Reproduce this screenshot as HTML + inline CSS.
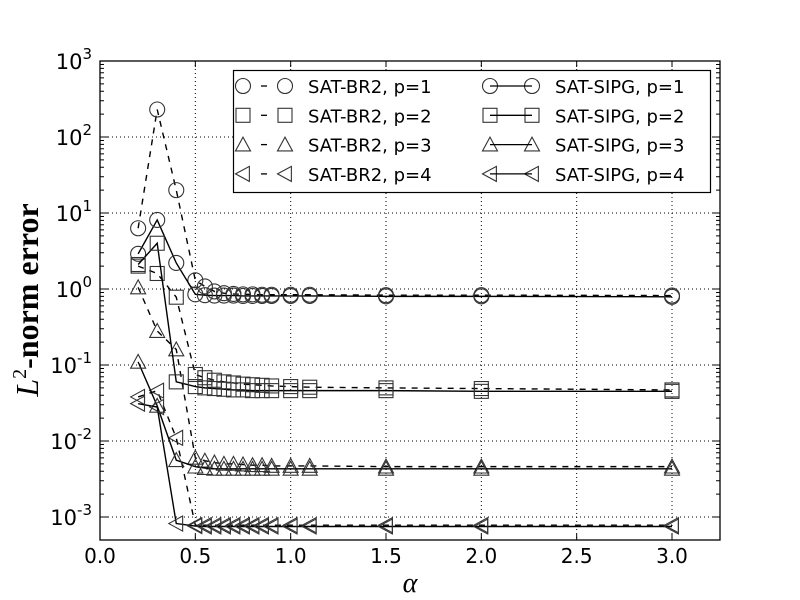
<!DOCTYPE html>
<html><head><meta charset="utf-8"><style>
body{margin:0;background:#fff}
svg{display:block}
text{font-family:"DejaVu Sans","Liberation Sans",sans-serif}
</style></head><body>
<svg id="chart" width="800" height="600" xmlns="http://www.w3.org/2000/svg">
<rect width="800" height="600" fill="#fff"/>
<g id="grid"></g>
<g id="series"></g>
<rect x="100" y="61" width="620" height="479" fill="none" stroke="#000" stroke-width="1.3"/>
<g id="ticks"></g>
<text x="410" y="592" text-anchor="middle" style="font-family:'Liberation Serif',serif;font-style:italic;font-size:28px">α</text>
<text transform="translate(38,300) rotate(-90)" text-anchor="middle" style="font-family:'Liberation Serif',serif;font-weight:bold;font-size:32px"><tspan font-style="italic" font-weight="normal">L</tspan><tspan dy="-12" font-size="20" font-weight="normal">2</tspan><tspan dy="12">-norm error</tspan></text>
<g id="legend">
<rect x="233.5" y="70.5" width="477" height="122" fill="#fff" stroke="#000" stroke-width="1.2"/>
</g>
</svg>
<script>
const xs = [0.2,0.3,0.4,0.5,0.55,0.6,0.65,0.7,0.75,0.8,0.85,0.9,1.0,1.1,1.5,2.0,3.0];
const br2p1 = [6.3,230,20,1.3,1.08,0.93,0.88,0.86,0.85,0.85,0.84,0.84,0.84,0.84,0.83,0.83,0.82];
const sipgp1 = [2.9,8.1,2.2,0.85,0.83,0.82,0.82,0.82,0.81,0.81,0.81,0.81,0.81,0.81,0.80,0.80,0.79];
const br2p2 = [2.0,1.6,0.78,0.075,0.068,0.063,0.06,0.058,0.056,0.055,0.054,0.053,0.052,0.051,0.05,0.049,0.047];
const sipgp2 = [2.1,4.0,0.06,0.052,0.05,0.049,0.048,0.047,0.047,0.046,0.046,0.046,0.046,0.046,0.046,0.045,0.045];
const br2p3 = [1.05,0.28,0.16,0.006,0.0055,0.0052,0.005,0.005,0.0049,0.0048,0.0048,0.0047,0.0047,0.0047,0.0046,0.0046,0.0046];
const sipgp3 = [0.11,0.029,0.0056,0.0046,0.0044,0.0043,0.0043,0.0043,0.0043,0.0043,0.0043,0.0043,0.0043,0.0043,0.0043,0.0043,0.0043];
const br2p4 = [0.038,0.046,0.011,0.00078,0.00078,0.00078,0.00078,0.00078,0.00078,0.00078,0.00078,0.00078,0.00078,0.00078,0.00078,0.00078,0.00078];
const sipgp4 = [0.031,0.028,0.00082,0.00076,0.00075,0.00075,0.00075,0.00075,0.00075,0.00075,0.00075,0.00075,0.00075,0.00075,0.00075,0.00075,0.00075];
const xTicks = [0,0.5,1.0,1.5,2.0,2.5,3.0];
const xTickLabels = ["0.0","0.5","1.0","1.5","2.0","2.5","3.0"];
const yTicks = [-3,-2,-1,0,1,2,3];

const NS="http://www.w3.org/2000/svg";
const X0=100,XPU=190.67,Y0=289,DEC=76;
const xp=v=>X0+v*XPU;
const yp=v=>Y0-Math.log10(v)*DEC;
const yl=e=>Y0-e*DEC;
function mk(tag,attrs,parent){const e=document.createElementNS(NS,tag);for(const k in attrs)e.setAttribute(k,attrs[k]);parent.appendChild(e);return e;}
const grid=document.getElementById('grid'),ticks=document.getElementById('ticks'),ser=document.getElementById('series'),leg=document.getElementById('legend');

xTicks.forEach((t,i)=>{
  const x=xp(t);
  if(t>0){const g=mk('line',{x1:x,x2:x,y1:61,y2:540,stroke:'#000','stroke-dasharray':'1,3','stroke-width':1},grid);
  
  }
  mk('line',{x1:x,x2:x,y1:540,y2:534,stroke:'#000'},ticks);
  mk('line',{x1:x,x2:x,y1:61,y2:67,stroke:'#000'},ticks);
  const tx=mk('text',{x:x,y:563,'text-anchor':'middle','font-size':20},ticks);
  tx.textContent=xTickLabels[i];
  
  
});
yTicks.forEach(e=>{
  const y=yl(e);
  if(e<3){const g=mk('line',{x1:100,x2:720,y1:y,y2:y,stroke:'#000','stroke-dasharray':'1,3','stroke-width':1},grid);
  
  }
  mk('line',{x1:100,x2:108,y1:y,y2:y,stroke:'#000'},ticks);
  mk('line',{x1:720,x2:712,y1:y,y2:y,stroke:'#000'},ticks);
  for(let m=2;m<10&&e<3;m++){const yy=y-Math.log10(m)*DEC;if(yy>540)continue;
    mk('line',{x1:100,x2:104,y1:yy,y2:yy,stroke:'#000'},ticks);
    mk('line',{x1:720,x2:716,y1:yy,y2:yy,stroke:'#000'},ticks);}
  const tx=mk('text',{x:92,y:y+8,'text-anchor':'end','font-size':21},ticks);
  tx.innerHTML='10<tspan dy="-10" font-size="15">'+e+'</tspan>';
  
  
});

function marker(shape,x,y,p){
  const s=7.5,a={fill:'none',stroke:'#333','stroke-width':1.1};
  let m;
  if(shape==='o')m=mk('circle',Object.assign({cx:x,cy:y,r:s},a),p);
  else if(shape==='s')m=mk('rect',Object.assign({x:x-s+0.5,y:y-s+0.5,width:2*s-1,height:2*s-1},a),p);
  else if(shape==='^')m=mk('polygon',Object.assign({points:`${x},${y-s} ${x-s},${y+s*0.85} ${x+s},${y+s*0.85}`},a),p);
  else m=mk('polygon',Object.assign({points:`${x-s},${y} ${x+s*0.85},${y-s} ${x+s*0.85},${y+s}`},a),p);
  return m;
}
const series=[
 {name:'br2-p1',vals:br2p1,shape:'o',dash:true,label:'SAT-BR2, p=1'},
 {name:'br2-p2',vals:br2p2,shape:'s',dash:true,label:'SAT-BR2, p=2'},
 {name:'br2-p3',vals:br2p3,shape:'^',dash:true,label:'SAT-BR2, p=3'},
 {name:'br2-p4',vals:br2p4,shape:'<',dash:true,label:'SAT-BR2, p=4'},
 {name:'sipg-p1',vals:sipgp1,shape:'o',dash:false,label:'SAT-SIPG, p=1'},
 {name:'sipg-p2',vals:sipgp2,shape:'s',dash:false,label:'SAT-SIPG, p=2'},
 {name:'sipg-p3',vals:sipgp3,shape:'^',dash:false,label:'SAT-SIPG, p=3'},
 {name:'sipg-p4',vals:sipgp4,shape:'<',dash:false,label:'SAT-SIPG, p=4'}
];
series.forEach((s,i)=>{
  const g=mk('g',{},ser);
  
  
  const pts=xs.map((x,j)=>xp(x)+','+yp(s.vals[j])).join(' ');
  const l=mk('polyline',{points:pts,fill:'none',stroke:'#000','stroke-width':1.4},g);
  if(s.dash)l.setAttribute('stroke-dasharray','6,6');
  
  
  xs.forEach((x,j)=>{
    const m=marker(s.shape,xp(x),yp(s.vals[j]),g);
    
    
  });
  const col=i<4?0:1,row=i%4;
  const lx=col?490:243,ly=86+row*29.3;
  const lg=mk('g',{},leg);
  
  
  marker(s.shape,lx,ly,lg);marker(s.shape,lx+42,ly,lg);
  const ll=mk('line',{x1:lx,x2:lx+42,y1:ly,y2:ly,stroke:'#000','stroke-width':1.3},lg);
  if(s.dash){ll.setAttribute('x1',lx+18);ll.setAttribute('x2',lx+24);}
  const t=mk('text',{x:col?555:308,y:ly+7,'font-size':18},lg);
  t.textContent=s.label;
});
</script>
</body></html>
